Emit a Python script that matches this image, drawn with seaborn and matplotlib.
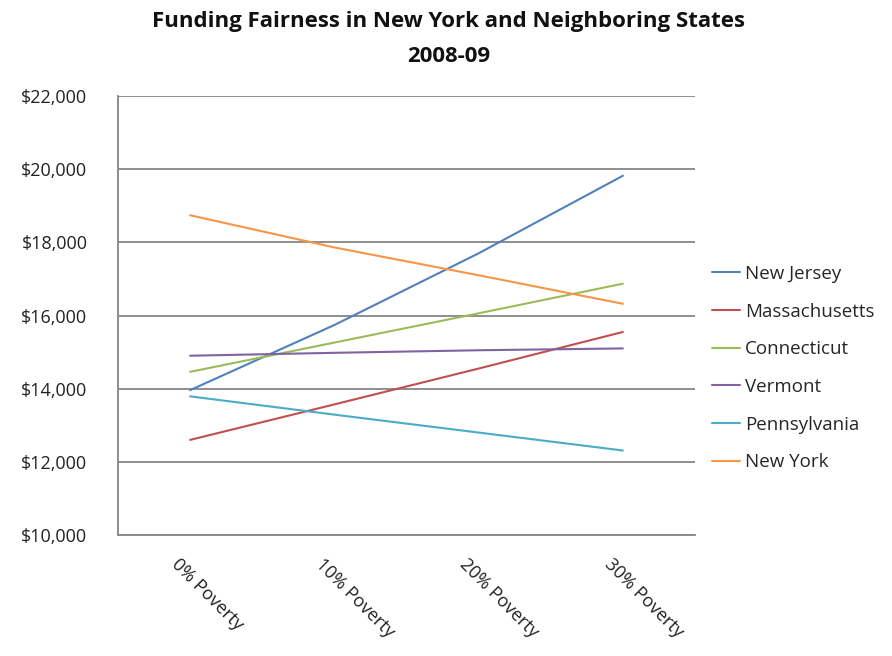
"""Funding fairness line chart: New York and neighboring states, 2008-09."""
import matplotlib
matplotlib.use("Agg")
import matplotlib.pyplot as plt
import pandas as pd
import seaborn as sns
from matplotlib.ticker import FuncFormatter, FixedLocator

categories = ["0% Poverty", "10% Poverty", "20% Poverty", "30% Poverty"]
states = ["New Jersey", "Massachusetts", "Connecticut", "Vermont", "Pennsylvania", "New York"]

new_jersey = [13960, 15740, 17700, 19820]
massachusetts = [12600, 13570, 14550, 15550]
connecticut = [14460, 15260, 16060, 16870]
vermont = [14900, 14980, 15050, 15100]
pennsylvania = [13790, 13290, 12800, 12310]
new_york = [18740, 17860, 17100, 16320]

colors = ["#4F81BD", "#C0504D", "#9BBB59", "#8064A2", "#4BACC6", "#F79646"]


def build_frame():
    series = [new_jersey, massachusetts, connecticut, vermont, pennsylvania, new_york]
    rows = []
    for state, values in zip(states, series):
        for i, (cat, v) in enumerate(zip(categories, values)):
            rows.append({"state": state, "pos": i, "category": cat, "funding": v})
    return pd.DataFrame(rows)


def main():
    sns.set_style("white")
    plt.rcParams["font.family"] = ["Open Sans", "DejaVu Sans"]
    df = build_frame()

    fig = plt.figure(figsize=(8.92, 6.56), dpi=100)
    ax = fig.add_axes([118 / 892, 1 - 535 / 656, (695 - 118) / 892, (535 - 96) / 656])

    sns.lineplot(data=df, x="pos", y="funding", hue="state", hue_order=states,
                 palette=colors, linewidth=1.5, ax=ax, legend=True)

    ax.set_xlim(-0.5, 3.5)
    ax.set_ylim(10000, 22000)
    ax.set_yticks(range(10000, 22001, 2000))
    ax.yaxis.set_major_formatter(FuncFormatter(lambda v, _: f"${v:,.0f}"))
    ax.grid(axis="y", color="#868686", linewidth=1.3)
    ax.set_axisbelow(True)

    # category boundaries carry the tick marks; labels sit just left of category centres
    ax.xaxis.set_major_locator(FixedLocator([-0.5, 0.5, 1.5, 2.5, 3.5]))
    ax.xaxis.set_minor_locator(FixedLocator([i - 0.11 for i in range(len(categories))]))
    ax.set_xticklabels([], minor=False)
    ax.set_xticklabels(categories, minor=True, rotation=-45, ha="left",
                       va="center", rotation_mode="anchor", fontsize=13, color="#222222")
    ax.tick_params(axis="x", which="major", length=7, width=1.3, color="#868686", direction="out")
    ax.tick_params(axis="x", which="minor", length=0, pad=19)
    ax.tick_params(axis="y", length=8, width=1.3, color="#868686", direction="out",
                   labelsize=13, labelcolor="#222222", pad=14)
    ax.set_xlabel("")
    ax.set_ylabel("")

    for side in ["top", "right"]:
        ax.spines[side].set_visible(False)
    for side in ["left", "bottom"]:
        ax.spines[side].set_color("#868686")
        ax.spines[side].set_linewidth(1.3)

    handles, labels = ax.get_legend_handles_labels()
    ax.legend(handles, labels, loc="center left", bbox_to_anchor=(1.0, 0.38),
              frameon=False, fontsize=13.5, handlelength=1.5, handletextpad=0.25,
              labelspacing=1.05, borderaxespad=0.5)

    title_kw = dict(ha="center", va="center", fontsize=16, fontweight="bold", color="#111111")
    fig.text(449 / 892, 1 - 22 / 656, "Funding Fairness in New York and Neighboring States", **title_kw)
    fig.text(449 / 892, 1 - 57 / 656, "2008-09", **title_kw)
    fig.savefig("out.png", dpi=100)


if __name__ == "__main__":
    main()
